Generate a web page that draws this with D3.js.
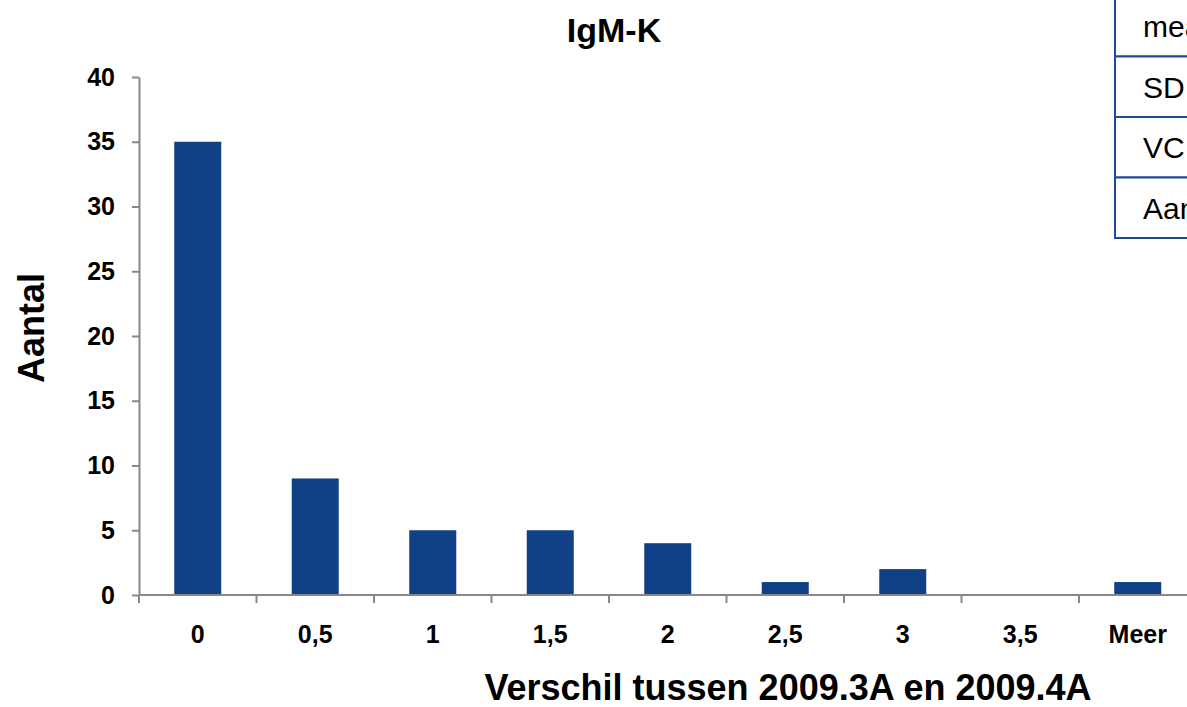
<!DOCTYPE html>
<html lang="en">
<head>
<meta charset="utf-8">
<title>IgM-K</title>
<script src="https://d3js.org/d3.v7.min.js"></script>
<style>
  body { margin: 0; background: #fff; }
  svg { display: block; font-family: "Liberation Sans", Arial, sans-serif; }
</style>
</head>
<body>
<script>
// data
var categories = ["0", "0,5", "1", "1,5", "2", "2,5", "3", "3,5", "Meer"];
var counts = [35, 9, 5, 5, 4, 1, 2, 0, 1];
var yTicks = [0, 5, 10, 15, 20, 25, 30, 35, 40];
var statLabels = ["mean", "SD", "VC", "Aantal"];

var width = 1187, height = 707;
var plotLeft = 139, plotTop = 77, plotBottom = 595;
var step = 117.5;

var svg = d3.select("body").append("svg")
    .attr("width", width)
    .attr("height", height);

var x = d3.scaleBand()
    .domain(categories)
    .range([plotLeft, plotLeft + step * categories.length])
    .paddingInner(0.6)
    .paddingOuter(0.3);

var y = d3.scaleLinear()
    .domain([0, 40])
    .range([plotBottom, plotTop]);

// bars
svg.selectAll("rect.bar")
    .data(counts)
    .enter().append("rect")
    .attr("class", "bar")
    .attr("x", function(d, i) { return x(categories[i]); })
    .attr("y", function(d) { return y(d); })
    .attr("width", x.bandwidth())
    .attr("height", function(d) { return y(0) - y(d); })
    .attr("fill", "#104187");

// y axis
var yAxis = svg.append("g")
    .attr("transform", "translate(" + plotLeft + ",0)")
    .call(d3.axisLeft(y).tickValues(yTicks).tickSize(7).tickSizeOuter(0).tickPadding(17));
yAxis.select(".domain").attr("stroke", "#888").attr("stroke-width", 2);
yAxis.selectAll(".tick line").attr("stroke", "#888").attr("stroke-width", 2);
yAxis.selectAll(".tick text")
    .attr("font-size", 25)
    .attr("font-weight", "bold")
    .attr("font-family", "Liberation Sans, Arial, sans-serif")
    .attr("fill", "#000");

// x axis, ticks at the band edges
var xAxis = svg.append("g")
    .attr("transform", "translate(0," + plotBottom + ")");
xAxis.append("line")
    .attr("x1", plotLeft).attr("x2", width + 20)
    .attr("y1", 0).attr("y2", 0)
    .attr("stroke", "#888").attr("stroke-width", 2);
xAxis.selectAll("line.edge")
    .data(categories)
    .enter().append("line")
    .attr("class", "edge")
    .attr("x1", function(d) { return x(d) - x.step() * 0.3; })
    .attr("x2", function(d) { return x(d) - x.step() * 0.3; })
    .attr("y1", 0).attr("y2", 8)
    .attr("stroke", "#888").attr("stroke-width", 2);
xAxis.selectAll("text")
    .data(categories)
    .enter().append("text")
    .attr("x", function(d) { return x(d) + x.bandwidth() / 2; })
    .attr("y", 48)
    .attr("text-anchor", "middle")
    .attr("font-size", 25)
    .attr("font-weight", "bold")
    .attr("fill", "#000")
    .text(function(d) { return d; });

// titles
svg.append("text")
    .attr("x", 614)
    .attr("y", 42)
    .attr("text-anchor", "middle")
    .attr("font-size", 34)
    .attr("font-weight", "bold")
    .text("IgM-K");

svg.append("text")
    .attr("transform", "translate(44,328) rotate(-90)")
    .attr("text-anchor", "middle")
    .attr("font-size", 36)
    .attr("font-weight", "bold")
    .text("Aantal");

svg.append("text")
    .attr("x", 788)
    .attr("y", 700)
    .attr("text-anchor", "middle")
    .attr("font-size", 36)
    .attr("font-weight", "bold")
    .text("Verschil tussen 2009.3A en 2009.4A");

// statistics table, clipped at the right edge
var rowH = 60.5, tableTop = -4, tableLeft = 1115;
var table = svg.append("g");
table.selectAll("rect")
    .data(statLabels)
    .enter().append("rect")
    .attr("x", tableLeft)
    .attr("y", function(d, i) { return tableTop + i * rowH; })
    .attr("width", 200)
    .attr("height", rowH)
    .attr("fill", "#fff")
    .attr("stroke", "#1f4a96")
    .attr("stroke-width", 2);
table.selectAll("text")
    .data(statLabels)
    .enter().append("text")
    .attr("x", tableLeft + 28)
    .attr("y", function(d, i) { return tableTop + i * rowH + rowH / 2 + 11; })
    .attr("font-size", 30)
    .attr("fill", "#000")
    .text(function(d) { return d; });
</script>
</body>
</html>
